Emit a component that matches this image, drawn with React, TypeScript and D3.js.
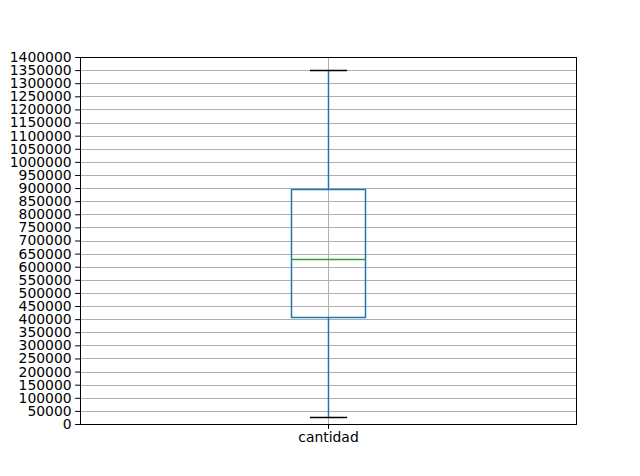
import { useEffect, useRef } from "react";
import * as d3 from "d3";

// Box plot stats for the single column
const CATEGORIES = ["cantidad"];
const WHISKER_LOW = [25000];
const Q1 = [407000];
const MEDIAN = [628000];
const Q3 = [895000];
const WHISKER_HIGH = [1350000];
const Y_TICKS = d3.range(0, 1400001, 50000);

const W = 640;
const H = 476;

export default function App() {
  const svgRef = useRef<SVGSVGElement>(null);

  useEffect(() => {
    const svg = d3.select(svgRef.current);
    svg.selectAll("*").remove();

    const margin = { top: 57, right: 64, bottom: 52, left: 80 };
    const width = W - margin.left - margin.right;
    const height = H - margin.top - margin.bottom;
    const font = "DejaVu Sans, sans-serif";

    const x = d3.scaleLinear().domain([0.5, CATEGORIES.length + 0.5]).range([0, width]);
    const y = d3.scaleLinear().domain([0, 1400000]).range([height, 0]);
    const py = (v: number) => Math.round(y(v)) + 0.5;

    const g = svg.append("g").attr("transform", `translate(${margin.left},${margin.top})`);

    // Grid lines
    g.append("g")
      .selectAll("line")
      .data(Y_TICKS)
      .join("line")
      .attr("x1", 0)
      .attr("x2", width)
      .attr("y1", (d) => py(d))
      .attr("y2", (d) => py(d))
      .attr("stroke", "#b0b0b0")
      .attr("stroke-width", 1);
    g.append("g")
      .selectAll("line")
      .data(CATEGORIES)
      .join("line")
      .attr("x1", (_, i) => Math.round(x(i + 1)) + 0.5)
      .attr("x2", (_, i) => Math.round(x(i + 1)) + 0.5)
      .attr("y1", 0)
      .attr("y2", height)
      .attr("stroke", "#b0b0b0")
      .attr("stroke-width", 1);

    // Axes
    const yAxis = g
      .append("g")
      .call(d3.axisLeft(y).tickValues(Y_TICKS).tickSize(4.9).tickPadding(3.5).tickFormat(d3.format("d")));
    yAxis.selectAll("text").attr("font-size", "13.9px").attr("font-family", font).attr("fill", "#000");
    yAxis.selectAll("line").attr("stroke", "#000").attr("stroke-width", 1);
    yAxis.select(".domain").remove();

    const xAxis = g
      .append("g")
      .attr("transform", `translate(0,${height})`)
      .call(
        d3.axisBottom(x)
          .tickValues(CATEGORIES.map((_, i) => i + 1))
          .tickSize(4.9)
          .tickPadding(3.5)
          .tickFormat((_, i) => CATEGORIES[i])
      );
    xAxis.selectAll("text").attr("font-size", "13.9px").attr("font-family", font).attr("fill", "#000");
    xAxis.selectAll("line").attr("stroke", "#000").attr("stroke-width", 1);
    xAxis.select(".domain").remove();

    // Boxes
    const boxW = x(1.075) - x(1);
    const capW = boxW / 2;
    CATEGORIES.forEach((_, i) => {
      const cx = Math.round(x(i + 1)) + 0.5;
      const b = g.append("g");
      b.append("line")
        .attr("x1", cx).attr("x2", cx)
        .attr("y1", py(Q3[i])).attr("y2", py(WHISKER_HIGH[i]))
        .attr("stroke", "#1f77b4").attr("stroke-width", 1.5);
      b.append("line")
        .attr("x1", cx).attr("x2", cx)
        .attr("y1", py(Q1[i])).attr("y2", py(WHISKER_LOW[i]))
        .attr("stroke", "#1f77b4").attr("stroke-width", 1.5);
      b.append("rect")
        .attr("x", Math.round(cx - boxW) + 0.5)
        .attr("y", py(Q3[i]))
        .attr("width", Math.round(boxW * 2))
        .attr("height", py(Q1[i]) - py(Q3[i]))
        .attr("fill", "none")
        .attr("stroke", "#1f77b4")
        .attr("stroke-width", 1.5);
      b.append("line")
        .attr("x1", Math.round(cx - boxW) + 0.5).attr("x2", Math.round(cx - boxW) + 0.5 + Math.round(boxW * 2))
        .attr("y1", py(MEDIAN[i])).attr("y2", py(MEDIAN[i]))
        .attr("stroke", "#2ca02c").attr("stroke-width", 1.5);
      [WHISKER_HIGH[i], WHISKER_LOW[i]].forEach((v) => {
        b.append("line")
          .attr("x1", cx - capW).attr("x2", cx + capW)
          .attr("y1", py(v)).attr("y2", py(v))
          .attr("stroke", "#000").attr("stroke-width", 1.5);
      });
    });

    // Frame
    g.append("rect")
      .attr("x", 0.5)
      .attr("y", 0.5)
      .attr("width", width)
      .attr("height", height)
      .attr("fill", "none")
      .attr("stroke", "#000")
      .attr("stroke-width", 1);
  }, []);

  return (
    <svg
      ref={svgRef}
      width={W}
      height={H}
      style={{ position: "absolute", left: 0, top: 0, background: "#fff" }}
    />
  );
}
